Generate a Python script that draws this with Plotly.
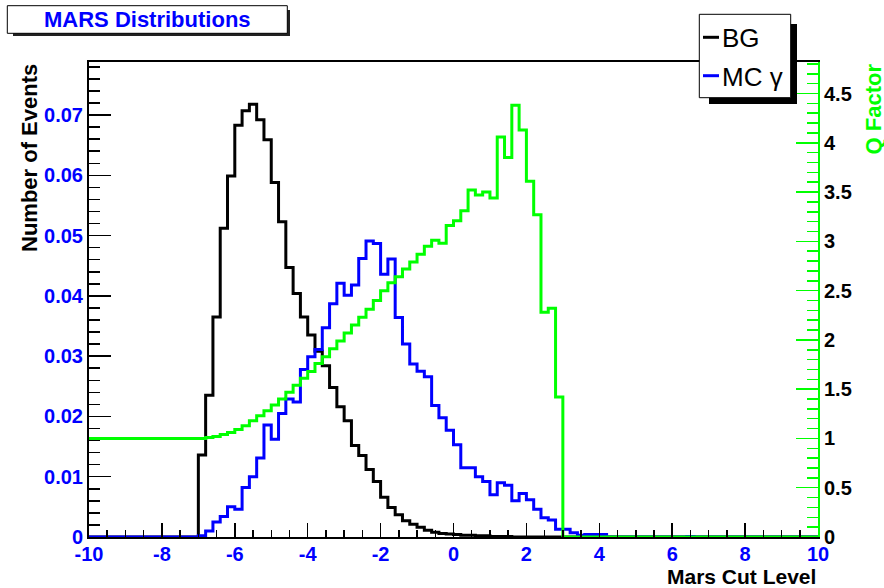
import numpy as np
import plotly.graph_objects as go

# ---------------- data (bin width 0.2, from -10 to 10) ----------------
bin_lo, bin_hi, n_bins = -10.0, 10.0, 100

bg_values = [
    0, 0, 0, 0, 0, 0, 0, 0, 0, 0,
    0, 0, 0, 0, 0, 0.0136, 0.0235, 0.0365, 0.0512, 0.0599,
    0.0683, 0.0707, 0.0718, 0.0692, 0.0659, 0.0588, 0.0523, 0.0447, 0.0404, 0.0365,
    0.0335, 0.0308, 0.0284, 0.0248, 0.0216, 0.0193, 0.0152, 0.0135, 0.0112, 0.0092,
    0.0066, 0.0049, 0.0037, 0.0027, 0.0021, 0.0016, 0.0011, 0.0008, 0.0006, 0.0005,
    0.0004, 0.0003, 0.0003, 0.0002, 0.0002, 0.0001, 0.0001, 0.0001, 0, 0,
    0, 0, 0, 0, 0, 0, 0, 0, 0, 0,
    0, 0, 0, 0, 0, 0, 0, 0, 0, 0,
    0, 0, 0, 0, 0, 0, 0, 0, 0, 0,
    0, 0, 0, 0, 0, 0, 0, 0, 0, 0,
]

mc_gamma_values = [
    0, 0, 0, 0, 0, 0, 0, 0, 0, 0,
    0, 0, 0, 0, 0, 0.0002, 0.0010, 0.0025, 0.0034, 0.0050,
    0.0046, 0.0082, 0.0100, 0.0131, 0.0186, 0.0162, 0.0205, 0.0229, 0.0224, 0.0278,
    0.0299, 0.0311, 0.0347, 0.0387, 0.0421, 0.0401, 0.0418, 0.0462, 0.0491, 0.0487,
    0.0436, 0.0461, 0.0364, 0.0320, 0.0287, 0.0275, 0.0266, 0.0218, 0.0198, 0.0177,
    0.0153, 0.0115, 0.0115, 0.0100, 0.0092, 0.0070, 0.0090, 0.0086, 0.0060, 0.0072,
    0.0062, 0.0046, 0.0032, 0.0028, 0.0013, 0.0013, 0.0007, 0.0003, 0.0004, 0.0004,
    0.0004, 0, 0, 0, 0, 0, 0, 0, 0, 0,
    0, 0, 0.0001, 0, 0, 0, 0, 0, 0, 0,
    0, 0, 0, 0, 0, 0, 0, 0, 0, 0,
]

q_factor_values = [
    1.00, 1.00, 1.00, 1.00, 1.00, 1.00, 1.00, 1.00, 1.00, 1.00,
    1.00, 1.00, 1.00, 1.00, 1.00, 1.00, 1.01, 1.02, 1.04, 1.06,
    1.09, 1.13, 1.18, 1.23, 1.28, 1.34, 1.40, 1.47, 1.54, 1.61,
    1.68, 1.76, 1.83, 1.91, 1.99, 2.07, 2.15, 2.23, 2.31, 2.40,
    2.50, 2.58, 2.64, 2.72, 2.79, 2.87, 2.95, 3.01, 2.98, 3.16,
    3.21, 3.31, 3.52, 3.47, 3.50, 3.44, 4.06, 3.85, 4.38, 4.13,
    3.61, 3.27, 2.28, 2.32, 1.42, 0, 0, 0, 0, 0,
    0, 0, 0, 0, 0, 0, 0, 0, 0, 0,
    0, 0, 0, 0, 0, 0, 0, 0, 0, 0,
    0, 0, 0, 0, 0, 0, 0, 0, 0, 0,
]

x_ticks = [-10, -8, -6, -4, -2, 0, 2, 4, 6, 8, 10]
left_range = [0, 0.0788]
right_range = [0, 4.82]

# ---------------- layout geometry (page pixel coords) ----------------
W, H = 884, 588
L, R, T, B = 89, 818, 62, 537
FONT = "Liberation Sans, Arial, Helvetica, sans-serif"


def px(xp):
    return (xp - L) / (R - L)


def py(yp):
    return (B - yp) / (B - T)


edges = np.round(np.linspace(bin_lo, bin_hi, n_bins + 1), 2)


def step_xy(vals):
    return list(edges), list(vals) + [vals[-1]]


fig = go.Figure()

x, y = step_xy(bg_values)
fig.add_trace(go.Scatter(x=x, y=y, mode="lines", line_shape="hv",
                         line=dict(color="#000000", width=3), name="BG",
                         yaxis="y", showlegend=False))
x, y = step_xy(mc_gamma_values)
fig.add_trace(go.Scatter(x=x, y=y, mode="lines", line_shape="hv",
                         line=dict(color="#0000ff", width=3), name="MC γ",
                         yaxis="y", showlegend=False))
x, y = step_xy(q_factor_values)
fig.add_trace(go.Scatter(x=x, y=y, mode="lines", line_shape="hv",
                         line=dict(color="#00ff00", width=3), name="Q Factor",
                         yaxis="y2", showlegend=False))

tickfont_blue = dict(family=FONT, size=20, color="#0000ff", weight="bold")
tickfont_black = dict(family=FONT, size=20, color="#000000", weight="bold")

fig.update_layout(
    width=W, height=H,
    margin=dict(l=L, r=W - R, t=T, b=H - B, pad=0),
    paper_bgcolor="white", plot_bgcolor="white",
    showlegend=False,
    xaxis=dict(
        range=[bin_lo, bin_hi], tickvals=x_ticks, ticktext=[str(v) for v in x_ticks],
        ticks="inside", ticklen=14, tickwidth=1.5, tickcolor="black",
        minor=dict(dtick=0.5, ticks="inside", ticklen=7, tickwidth=1.5, tickcolor="black"),
        showline=True, linecolor="black", linewidth=2, mirror=True,
        showgrid=False, zeroline=False, tickfont=tickfont_blue,
        ticklabelstandoff=-2,
    ),
    yaxis=dict(
        range=left_range, dtick=0.01, tick0=0,
        ticks="inside", ticklen=22, tickwidth=1.5, tickcolor="black",
        minor=dict(dtick=0.002, ticks="inside", ticklen=11, tickwidth=1.5, tickcolor="black"),
        showline=True, linecolor="black", linewidth=2,
        showgrid=False, zeroline=False, tickfont=tickfont_blue,
    ),
    yaxis2=dict(
        range=right_range, dtick=0.5, tick0=0, overlaying="y", side="right",
        ticks="inside", ticklen=22, tickwidth=1.5, tickcolor="#00ff00",
        minor=dict(dtick=0.1, ticks="inside", ticklen=11, tickwidth=1.5, tickcolor="#00ff00"),
        showline=True, linecolor="#00ff00", linewidth=2,
        showgrid=False, zeroline=False, tickfont=tickfont_black,
    ),
)

shapes = []
# title box with shadow
shapes.append(dict(type="rect", xref="paper", yref="paper",
                   x0=px(13), x1=px(290), y0=py(36), y1=py(10),
                   fillcolor="#222222", line=dict(width=0)))
shapes.append(dict(type="rect", xref="paper", yref="paper",
                   x0=px(7.3), x1=px(287.3), y0=py(33.3), y1=py(5.7),
                   fillcolor="white", line=dict(color="black", width=1)))
# legend box with shadow
shapes.append(dict(type="rect", xref="paper", yref="paper",
                   x0=px(709), x1=px(797), y0=py(104), y1=py(24),
                   fillcolor="black", line=dict(width=0)))
shapes.append(dict(type="rect", xref="paper", yref="paper",
                   x0=px(699.3), x1=px(790.7), y0=py(97.7), y1=py(14.3),
                   fillcolor="white", line=dict(color="black", width=1)))
shapes.append(dict(type="line", xref="paper", yref="paper",
                   x0=px(703), x1=px(719), y0=py(37.3), y1=py(37.3),
                   line=dict(color="black", width=3)))
shapes.append(dict(type="line", xref="paper", yref="paper",
                   x0=px(703), x1=px(719), y0=py(75.7), y1=py(75.7),
                   line=dict(color="#0000ff", width=3)))
fig.update_layout(shapes=shapes)

ann = []
ann.append(dict(text="MARS Distributions", xref="paper", yref="paper",
                x=px(147), y=py(19.5), xanchor="center", yanchor="middle",
                showarrow=False,
                font=dict(family=FONT, size=22, color="#0000ff", weight="bold")))
ann.append(dict(text="BG", xref="paper", yref="paper",
                x=px(720), y=py(38), xanchor="left", yanchor="middle",
                showarrow=False, font=dict(family=FONT, size=26, color="black")))
ann.append(dict(text="MC γ", xref="paper", yref="paper",
                x=px(720), y=py(77), xanchor="left", yanchor="middle",
                showarrow=False, font=dict(family=FONT, size=26, color="black")))
ann.append(dict(text="Number of Events", xref="paper", yref="paper",
                x=px(29), y=1, xanchor="center", yanchor="top", textangle=-90,
                showarrow=False,
                font=dict(family=FONT, size=22, color="black", weight="bold")))
ann.append(dict(text="Q Factor", xref="paper", yref="paper",
                x=px(873), y=1, xanchor="center", yanchor="top", textangle=-90,
                showarrow=False,
                font=dict(family=FONT, size=22, color="#00ff00", weight="bold")))
ann.append(dict(text="Mars Cut Level", xref="paper", yref="paper",
                x=px(818), y=py(576.5), xanchor="right", yanchor="middle",
                showarrow=False,
                font=dict(family=FONT, size=21, color="black", weight="bold")))
fig.update_layout(annotations=ann)

# remove the browser's default 8px body margin so the figure sits at (0, 0)
fig.write_html("out.html",
               config={"displayModeBar": False, "staticPlot": True},
               post_script="document.body.style.margin='0';document.body.style.overflow='hidden';")
